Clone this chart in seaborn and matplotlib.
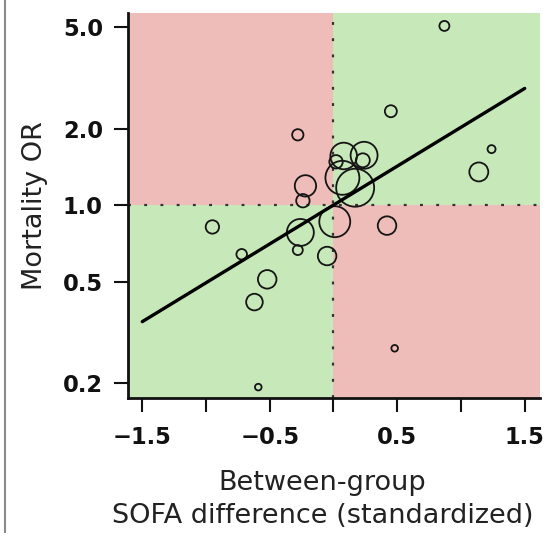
import matplotlib
matplotlib.use("Agg")
import matplotlib.pyplot as plt
import numpy as np
import seaborn as sns
from matplotlib.lines import Line2D
from matplotlib.patches import Rectangle
from matplotlib.ticker import FixedLocator, FixedFormatter, NullLocator

# one bubble per study: standardized SOFA difference vs mortality OR
sofa_diff = [0.87, 0.45, 1.24, 1.14, -0.28, 0.08, 0.24, 0.23, 0.02, 0.07, 0.17, -0.22,
             -0.24, -0.26, 0.01, -0.28, -0.05, 0.42, -0.95, -0.72, -0.52, -0.62, -0.59, 0.48]
mortality_or = [5.07, 2.34, 1.66, 1.35, 1.89, 1.56, 1.57, 1.50, 1.48, 1.28, 1.17, 1.19,
                1.04, 0.78, 0.86, 0.665, 0.63, 0.83, 0.82, 0.64, 0.51, 0.415, 0.192, 0.273]
# relative study weight (bubble area)
study_weight = [25, 36, 16, 90, 32, 177, 182, 49, 45, 289, 361, 114,
                45, 182, 240, 25, 86, 86, 45, 28, 86, 69, 11, 11]

# meta-regression: log10(OR) = intercept + slope * x
reg_intercept = 0.0
reg_slope = 0.306
reg_range = [-1.5, 1.5]

x_ticks = [-1.5, -1.0, -0.5, 0.0, 0.5, 1.0, 1.5]
x_tick_labels = ["\u22121.5", "", "\u22120.5", "", "0.5", "", "1.5"]
y_ticks = [0.2, 0.5, 1.0, 2.0, 5.0]
y_tick_labels = ["0.2", "0.5", "1.0", "2.0", "5.0"]

ROOD = "#EFBDB9"
GROEN = "#C7E8B9"

sns.set_theme(style="ticks")
plt.rcParams["font.family"] = ["DejaVu Sans"]

fig = plt.figure(figsize=(5.47, 5.33), dpi=100)
ax = fig.add_axes([0.234, 0.2533, 0.7532, 0.7223])
ax.set_yscale("log")
x0, x1 = -1.612, 1.62
y0, y1 = 0.174, 5.70
ax.set_xlim(x0, x1)
ax.set_ylim(y0, y1)

# quadrants: above 1 and left of 0 red, etc.
ax.add_patch(Rectangle((x0, 1), 0 - x0, y1 - 1, color=ROOD, lw=0, zorder=0))
ax.add_patch(Rectangle((0, 1), x1, y1 - 1, color=GROEN, lw=0, zorder=0))
ax.add_patch(Rectangle((x0, y0), 0 - x0, 1 - y0, color=GROEN, lw=0, zorder=0))
ax.add_patch(Rectangle((0, y0), x1, 1 - y0, color=ROOD, lw=0, zorder=0))

stippel = (0, (1.3, 6.0))
ax.axvline(0, color="#333333", lw=1.6, ls=stippel, zorder=1)
ax.axhline(1, color="#333333", lw=1.6, ls=stippel, zorder=1)

sizes = np.array(study_weight) * 2.07
sns.scatterplot(x=sofa_diff, y=mortality_or, s=sizes, facecolor="none",
                edgecolor="#151515", linewidth=1.3, ax=ax, legend=False, zorder=3)

xs = np.array(reg_range)
ys = 10 ** (reg_intercept + reg_slope * xs)
sns.lineplot(x=xs, y=ys, color="black", lw=2.4, ax=ax, zorder=4)

sns.despine(ax=ax)
for kant in ["left", "bottom"]:
    ax.spines[kant].set_linewidth(2.0)
    ax.spines[kant].set_color("#111111")

ax.xaxis.set_major_locator(FixedLocator(x_ticks))
ax.xaxis.set_major_formatter(FixedFormatter(x_tick_labels))
ax.yaxis.set_major_locator(FixedLocator(y_ticks))
ax.yaxis.set_major_formatter(FixedFormatter(y_tick_labels))
ax.yaxis.set_minor_locator(NullLocator())
ax.tick_params(axis="both", width=1.5, length=10, labelsize=16.3, pad=8,
               color="#111111", labelcolor="#111111")
ax.tick_params(axis="x", pad=10)
for lbl in ax.get_xticklabels() + ax.get_yticklabels():
    lbl.set_fontweight("bold")

ax.set_ylabel("Mortality OR", fontsize=19.5, color="#222222")
ax.yaxis.set_label_coords(-0.195, 0.5)
ax.set_xlabel("Between-group\nSOFA difference (standardized)", fontsize=19.5,
              color="#222222", linespacing=1.35)
ax.xaxis.set_label_coords(0.472, -0.188)

fig.add_artist(Line2D([4.5 / 547] * 2, [0, 1], transform=fig.transFigure,
                      color="#8a8a8a", lw=1.5))

fig.savefig("out.png", dpi=100)
